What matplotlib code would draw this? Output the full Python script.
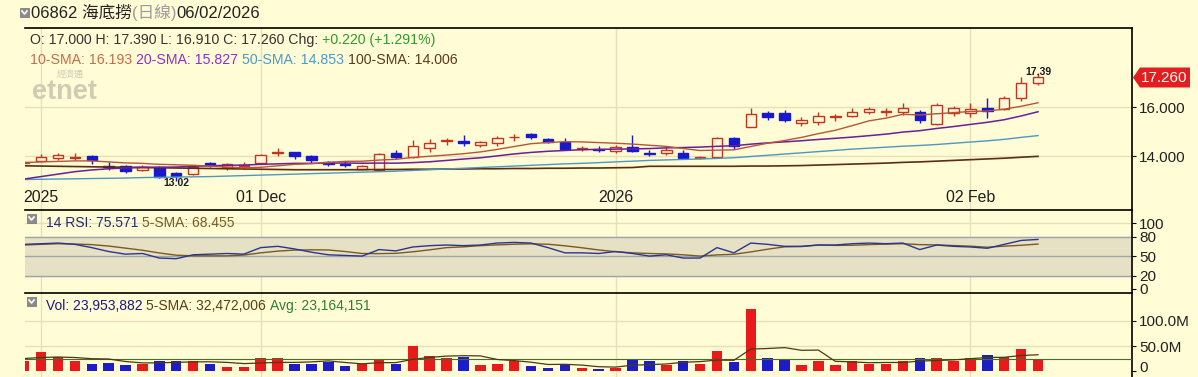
import matplotlib
matplotlib.use("Agg")
import matplotlib.pyplot as plt
from matplotlib.patches import Rectangle, Polygon
from matplotlib.transforms import blended_transform_factory, ScaledTranslation

plt.rcParams['font.family'] = ['Liberation Sans', 'Noto Sans CJK TC', 'DejaVu Sans']

W, H = 1198, 377
BG = '#FFFCD6'
RED = '#C4361C'
BLUE = '#1818CC'
CANDLE_FILL = '#FFF8DC'
GRID = '#E6E0B8'

# trading days: 0 = first gridline ("2025"), -1 is the clipped candle at the left edge
days = list(range(-1, 60))
opens = [13.72, 13.83, 13.93, 13.95, 14.02, 13.63, 13.61, 13.45, 13.56, 13.32,
         13.28, 13.72, 13.56, 13.62, 13.75, 14.15, 14.17, 14.02, 13.76, 13.70,
         13.50, 13.45, 14.15, 13.97, 14.33, 14.63, 14.62, 14.48, 14.56, 14.78,
         14.92, 14.71, 14.60, 14.32, 14.31, 14.24, 14.38, 14.16, 14.13, 14.16,
         13.95, 13.99, 14.74, 15.22, 15.79, 15.76, 15.36, 15.42, 15.61, 15.65,
         15.80, 15.82, 15.80, 15.83, 15.33, 15.76, 15.76, 15.97, 15.94, 16.38,
         17.00]
highs = [13.80, 14.09, 14.15, 14.16, 14.05, 13.79, 13.66, 13.66, 13.60, 13.38,
         13.60, 13.79, 13.72, 13.79, 14.10, 14.33, 14.20, 14.05, 13.83, 13.83,
         13.66, 14.15, 14.28, 14.67, 14.70, 14.74, 14.88, 14.62, 14.84, 14.92,
         14.96, 14.77, 14.74, 14.43, 14.43, 14.47, 14.88, 14.27, 14.38, 14.27,
         14.03, 14.78, 14.78, 15.97, 15.86, 15.90, 15.62, 15.83, 15.73, 15.99,
         16.01, 15.97, 16.17, 15.90, 16.17, 16.06, 16.17, 16.38, 16.45, 17.26,
         17.39]
lows = [13.70, 13.79, 13.85, 13.85, 13.70, 13.45, 13.31, 13.39, 13.11, 13.02,
        13.25, 13.58, 13.45, 13.48, 13.73, 14.00, 13.89, 13.72, 13.61, 13.56,
        13.48, 13.42, 13.89, 13.93, 14.20, 14.47, 14.43, 14.40, 14.43, 14.64,
        14.70, 14.56, 14.27, 14.24, 14.18, 14.13, 14.18, 14.00, 14.05, 13.88,
        13.89, 13.96, 14.29, 15.20, 15.49, 15.42, 15.24, 15.29, 15.46, 15.62,
        15.73, 15.65, 15.69, 15.36, 15.29, 15.65, 15.62, 15.56, 15.90, 16.28,
        16.91]
closes = [13.76, 13.99, 14.06, 13.97, 13.86, 13.58, 13.42, 13.58, 13.18, 13.22,
          13.56, 13.64, 13.68, 13.66, 14.08, 14.17, 14.02, 13.86, 13.70, 13.66,
          13.61, 14.10, 13.99, 14.43, 14.56, 14.66, 14.57, 14.59, 14.74, 14.81,
          14.78, 14.59, 14.31, 14.35, 14.28, 14.40, 14.21, 14.12, 14.27, 13.94,
          13.97, 14.74, 14.43, 15.73, 15.62, 15.49, 15.49, 15.65, 15.64, 15.83,
          15.94, 15.84, 15.97, 15.49, 16.10, 15.97, 15.94, 15.86, 16.38, 17.01,
          17.26]

sma10 = [13.75, 13.78, 13.80, 13.82, 13.82, 13.78, 13.74, 13.72, 13.68, 13.662,
         13.642, 13.607, 13.569, 13.538, 13.560, 13.619, 13.679, 13.707, 13.759, 13.803,
         13.808, 13.854, 13.885, 13.962, 14.010, 14.059, 14.114, 14.187, 14.291, 14.406,
         14.523, 14.572, 14.604, 14.596, 14.568, 14.542, 14.506, 14.459, 14.412, 14.325,
         14.244, 14.259, 14.271, 14.409, 14.543, 14.652, 14.780, 14.933, 15.070, 15.259,
         15.456, 15.566, 15.720, 15.696, 15.744, 15.792, 15.837, 15.858, 15.932, 16.050,
         16.193]
sma20 = [13.08, 13.18, 13.28, 13.38, 13.45, 13.50, 13.53, 13.56, 13.56, 13.57,
         13.60, 13.62, 13.64, 13.65, 13.68, 13.70, 13.72, 13.72, 13.73, 13.733,
         13.725, 13.731, 13.727, 13.750, 13.785, 13.839, 13.897, 13.947, 14.025, 14.105,
         14.166, 14.213, 14.245, 14.279, 14.289, 14.301, 14.310, 14.323, 14.352, 14.366,
         14.384, 14.416, 14.438, 14.503, 14.556, 14.597, 14.643, 14.696, 14.741, 14.792,
         14.850, 14.913, 14.996, 15.053, 15.144, 15.222, 15.309, 15.396, 15.501, 15.655,
         15.827]
sma50 = [13.06, 13.07, 13.08, 13.09, 13.10, 13.11, 13.12, 13.14, 13.15, 13.16,
         13.17, 13.18, 13.20, 13.22, 13.24, 13.26, 13.28, 13.30, 13.32, 13.34,
         13.36, 13.38, 13.40, 13.43, 13.46, 13.49, 13.52, 13.55, 13.58, 13.61,
         13.64, 13.67, 13.70, 13.72, 13.75, 13.78, 13.81, 13.84, 13.86, 13.88,
         13.90, 13.92, 13.95, 14.00, 14.05, 14.10, 14.15, 14.20, 14.25, 14.30,
         14.34, 14.38, 14.42, 14.45, 14.49, 14.54, 14.59, 14.64, 14.70, 14.78,
         14.853]
sma100 = [13.62, 13.61, 13.60, 13.59, 13.58, 13.57, 13.56, 13.55, 13.54, 13.53,
          13.52, 13.51, 13.50, 13.49, 13.48, 13.47, 13.46, 13.46, 13.46, 13.46,
          13.46, 13.47, 13.47, 13.48, 13.48, 13.49, 13.49, 13.50, 13.50, 13.51,
          13.51, 13.52, 13.52, 13.53, 13.53, 13.54, 13.55, 13.60, 13.60, 13.60,
          13.60, 13.60, 13.60, 13.61, 13.61, 13.62, 13.63, 13.65, 13.67, 13.69,
          13.71, 13.73, 13.76, 13.78, 13.81, 13.84, 13.87, 13.90, 13.93, 13.97,
          14.006]

rsi = [68, 69, 70, 68, 63, 57, 53, 54, 47, 46,
       52, 53, 54, 53, 63, 65, 61, 56, 52, 51,
       50, 60, 58, 64, 66, 67, 66, 67, 70, 71,
       70, 63, 55, 55, 54, 57, 54, 50, 52, 47,
       47, 63, 55, 70, 68, 65, 65, 67, 67, 69,
       70, 69, 70, 60, 67, 65, 64, 62, 68, 74,
       75.571]
rsi_sma5 = [67, 68, 69, 68.5, 67.6, 65.4, 62.2, 59, 54.8, 51.4,
            50.4, 50.4, 50.4, 51.6, 55, 57.6, 59.2, 59.6, 59.4, 57,
            54, 53.8, 54.2, 56.6, 59.6, 63, 64.2, 66, 67.2, 68.2,
            68.8, 68.2, 65.8, 62.8, 59.4, 56.8, 55, 54, 53.4, 52,
            50, 51.8, 52.8, 56.4, 60.6, 64.2, 64.6, 67, 66.4, 66.6,
            67.6, 68.4, 69, 67.6, 67.2, 66.2, 65.2, 63.6, 65.2, 66.6,
            68.455]

# volume in millions
volume = [20, 38, 29, 21, 15, 17, 13, 15, 21, 21,
          21, 14, 9, 9, 27, 27, 14, 14, 19, 11,
          14, 25, 15, 51, 31, 27, 29, 13, 15, 20,
          11, 6, 15, 7, 4, 7, 25, 21, 13, 21,
          14, 40, 19, 125, 27, 23, 13, 21, 13, 21,
          15, 15, 21, 27, 27, 21, 27, 33, 29, 45,
          23.95]
vol_sma5 = [25, 27, 28, 27, 24.6, 24, 19, 16.2, 16.2, 17.4,
            18.2, 18.4, 17.2, 14.8, 16, 17.2, 17.2, 18.2, 20.2, 17,
            14.4, 16.6, 16.8, 23.2, 27.2, 29.8, 30.6, 30.2, 23, 20.8,
            17.6, 13, 13.4, 11.8, 8.6, 7.8, 11.6, 12.8, 14, 17.4,
            18.8, 21.8, 21.4, 43.8, 45, 46.8, 41.4, 41.8, 19.4, 18.2,
            16.6, 17, 17, 19.8, 21, 22.2, 24.6, 27, 27.4, 31,
            32.47]
vol_avg = 23.164

grid_days = [0, 13, 34, 55]
grid_labels = ['2025', '01 Dec', '2026', '02 Feb']

fig = plt.figure(figsize=(W / 100, H / 100), dpi=100, facecolor=BG)


def px_axes(top, bottom):
    return fig.add_axes([25 / W, 1 - bottom / H, (1132 - 25) / W, (bottom - top) / H])


ax = px_axes(28, 210)
ax_rsi = px_axes(210, 293)
ax_vol = px_axes(293, 377)

for a in (ax, ax_rsi, ax_vol):
    a.set_facecolor(BG)
    a.set_xlim(-0.95, 64.56)
    a.set_xticks([])
    a.spines['left'].set_visible(False)
    a.spines['bottom'].set_visible(False)
    a.spines['top'].set_linewidth(1.2)
    a.spines['right'].set_linewidth(1.2)
    a.yaxis.tick_right()
    a.tick_params(axis='y', length=3, width=0.8, pad=2, labelsize=11, labelcolor='#222222')
    for d in grid_days:
        a.axvline(d, color=GRID, lw=1, zorder=0)

# ---- price panel
ax.set_ylim(11.816, 19.245)
ax.set_yticks([14, 16])
ax.set_yticklabels(['14.000', '16.000'])
for lvl in (14, 16):
    ax.axhline(lvl, color=GRID, lw=1, zorder=0)

for d, o, h, l, c in zip(days, opens, highs, lows, closes):
    up = c >= o
    col = RED if up else BLUE
    ax.vlines(d, l, h, color=col, lw=1, zorder=2)
    ax.add_patch(Rectangle((d - 0.31, min(o, c)), 0.62, max(abs(c - o), 0.008),
                           facecolor=CANDLE_FILL if up else BLUE, edgecolor=col,
                           lw=1, zorder=3))

ax.plot(days, sma100, color='#5A2E0E', lw=1.2, zorder=4)
ax.plot(days, sma50, color='#4D98C0', lw=1.0, zorder=4)
ax.plot(days, sma20, color='#6A1E9A', lw=1.1, zorder=4)
ax.plot(days, sma10, color='#B5553A', lw=1.0, zorder=4)

ax.annotate('13.02', (8, 13.02), xytext=(0, -1.7), textcoords='offset points',
            ha='center', va='center', fontsize=7.5, fontweight='bold', color='#1A1A1A')
ax.annotate('17.39', (59, 17.39), xytext=(0, 1.3), textcoords='offset points',
            ha='center', va='center', fontsize=7.5, fontweight='bold', color='#1A1A1A')

tr = blended_transform_factory(ax.transData, ax.transAxes)
for d, lab in zip(grid_days, grid_labels):
    ax.text(d, 0.066, lab, transform=tr, ha='center', va='center', fontsize=11.4, color='#1E1E1E')

# etnet watermark
fig.text(32 / W, 1 - 92 / H, 'etnet', fontsize=19.5, fontweight='bold', color='#CFCCB4',
         ha='left', va='center')
fig.text(70 / W, 1 - 75 / H, '經濟通', fontsize=6.5, color='#CFCCB4', ha='center', va='center')

# last price tag
tag = Polygon([(1133 / W, 1 - 77.5 / H), (1140 / W, 1 - 67.5 / H), (1190 / W, 1 - 67.5 / H),
               (1190 / W, 1 - 87.5 / H), (1140 / W, 1 - 87.5 / H)],
              closed=True, transform=fig.transFigure, facecolor='#E41E1E', edgecolor='none')
fig.patches.append(tag)
fig.text(1164 / W, 1 - 77.5 / H, '17.260', fontsize=11, color='white', ha='center', va='center')

# ---- RSI panel
ax_rsi.set_ylim(-6.6, 120.7)
ax_rsi.set_yticks([0, 20, 50, 80, 100])
ax_rsi.set_yticklabels(['0', '20', '50', '80', '100'])
ax_rsi.axhspan(20, 80, color='#E6E1C4', zorder=0.5)
ax_rsi.axhline(100, color=GRID, lw=1, zorder=0.6)
for lvl in (20, 50, 80):
    ax_rsi.axhline(lvl, color='#9BA6AC', lw=1, zorder=0.6)
ax_rsi.plot(days, rsi_sma5, color='#7A5A20', lw=1.0, zorder=3)
ax_rsi.plot(days, rsi, color='#2B3590', lw=1.0, zorder=3)

# ---- volume panel
ax_vol.set_ylim(-12, 156)
ax_vol.set_yticks([0, 50, 100])
ax_vol.set_yticklabels(['0', '50.0M', '100.0M'])
for lvl in (50, 100):
    ax_vol.axhline(lvl, color=GRID, lw=1, zorder=0)
bar_cols = ['#E81A1A' if c >= o else '#1C1CC8' for o, c in zip(opens, closes)]
ax_vol.bar(days, volume, width=0.62, color=bar_cols, zorder=2)
ax_vol.axhline(vol_avg, color='#4A6A2A', lw=0.8, zorder=3)
ax_vol.plot(days, vol_sma5, color='#4A3A10', lw=0.9, zorder=4)
# the bottom "0" sits right on the image edge, nudge it up a little
zero_lab = ax_vol.get_yticklabels()[0]
zero_lab.set_transform(zero_lab.get_transform() + ScaledTranslation(0, 3 / 72, fig.dpi_scale_trans))

# ---- header texts
renderer = fig.canvas.get_renderer()


def put_line(x, y, parts, size):
    for s, c in parts:
        t = fig.text(x / W, 1 - y / H, s, color=c, fontsize=size, ha='left', va='center')
        x += t.get_window_extent(renderer=renderer).width


def icon(x, y):
    fig.patches.append(Rectangle((x / W, 1 - (y + 9) / H), 9 / W, 9 / H, transform=fig.transFigure,
                                 facecolor='#8C8C8C', edgecolor='#707070', lw=0.5))
    fig.lines.append(plt.Line2D([(x + 2) / W, (x + 4.5) / W, (x + 7) / W],
                                [1 - (y + 3) / H, 1 - (y + 6) / H, 1 - (y + 3) / H],
                                transform=fig.transFigure, color='white', lw=1.2))


icon(20, 8)
put_line(31, 13, [('06862 海底撈', '#222222'), ('(日線)', '#9A9A9A'), ('06/02/2026', '#222222')], 12)
put_line(30, 40, [('O: 17.000 H: 17.390 L: 16.910 C: 17.260 Chg: ', '#333333'),
                  ('+0.220 (+1.291%)', '#2E9A2E')], 10.2)
put_line(30, 60, [('10-SMA: 16.193 ', '#C86A4A'), ('20-SMA: 15.827 ', '#9030C8'),
                  ('50-SMA: 14.853 ', '#4A9AD0'), ('100-SMA: 14.006', '#5A3A1A')], 10.2)

icon(27, 214)
put_line(46, 223, [('14 RSI: 75.571 ', '#1E2A7A'), ('5-SMA: 68.455', '#7A5A20')], 10)

icon(27, 297)
put_line(46, 306, [('Vol: 23,953,882 ', '#1A1A80'), ('5-SMA: 32,472,006 ', '#5A4010'),
                   ('Avg: 23,164,151', '#2F7F2F')], 10)

fig.savefig('out.png', dpi=100, facecolor=BG)
